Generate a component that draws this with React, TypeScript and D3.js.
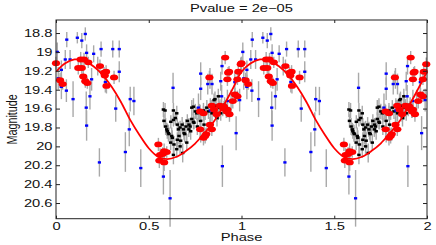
import React, { useEffect, useRef } from 'react';
import * as d3 from 'd3';

// one period of the folded light curve; every point is drawn at phase and phase + 1
const bluePhase = [0.007, 0.012, 0.029, 0.029, 0.05, 0.056, 0.058, 0.076, 0.092, 0.115, 0.139, 0.158, 0.165, 0.163, 0.165, 0.183, 0.192, 0.203, 0.225, 0.234, 0.243, 0.266, 0.306, 0.322, 0.341, 0.341, 0.374, 0.395, 0.4, 0.42, 0.457, 0.579, 0.615, 0.631, 0.768, 0.78, 0.78, 0.78, 0.818, 0.83, 0.832, 0.841, 0.877, 0.888, 0.893, 0.895, 0.897, 0.924, 0.944, 0.964, 0.971, 0.99];
const blueMag = [19.0, 19.28, 19.19, 19.37, 19.08, 19.41, 18.87, 19.08, 19.5, 18.85, 18.88, 18.81, 19.01, 19.59, 19.78, 19.47, 19.29, 19.02, 19.15, 20.17, 18.97, 19.32, 18.97, 19.6, 18.97, 19.21, 20.06, 19.82, 19.5, 19.52, 20.23, 20.32, 20.55, 19.38, 19.59, 19.23, 19.39, 19.81, 19.34, 19.28, 19.62, 19.34, 19.58, 19.31, 19.47, 19.15, 20.21, 19.52, 19.52, 19.32, 19.86, 19.51];
const blueErr = [0.1, 0.12, 0.1, 0.13, 0.1, 0.12, 0.08, 0.1, 0.19, 0.06, 0.08, 0.07, 0.09, 0.17, 0.16, 0.14, 0.12, 0.09, 0.1, 0.15, 0.08, 0.11, 0.09, 0.14, 0.09, 0.11, 0.21, 0.18, 0.13, 0.15, 0.2, 0.19, 0.3, 0.16, 0.15, 0.12, 0.12, 0.15, 0.11, 0.11, 0.13, 0.11, 0.13, 0.1, 0.12, 0.09, 0.22, 0.12, 0.12, 0.11, 0.18, 0.12];

const blackPhase = [0.579, 0.582, 0.588, 0.591, 0.597, 0.6, 0.606, 0.609, 0.618, 0.619, 0.624, 0.627, 0.633, 0.633, 0.633, 0.636, 0.643, 0.651, 0.651, 0.654, 0.654, 0.66, 0.663, 0.669, 0.669, 0.672, 0.68, 0.683, 0.687, 0.69, 0.694, 0.701, 0.705, 0.708, 0.716, 0.717, 0.723, 0.726, 0.732, 0.732, 0.741, 0.741, 0.744, 0.751, 0.759, 0.762, 0.773, 0.78, 0.795, 0.798, 0.804, 0.813, 0.822, 0.834, 0.841, 0.848, 0.852, 0.857, 0.858, 0.863, 0.868, 0.875, 0.875, 0.881, 0.888, 0.899, 0.909, 0.918];
const blackMag = [19.61, 19.73, 19.62, 19.79, 19.82, 19.84, 19.86, 19.87, 19.96, 19.74, 19.89, 19.91, 20.09, 19.72, 19.62, 19.98, 19.7, 19.65, 20.03, 19.93, 19.77, 19.82, 19.89, 20.0, 19.8, 19.94, 19.77, 20.07, 19.82, 19.86, 19.87, 19.79, 19.96, 19.73, 19.82, 19.77, 19.79, 19.84, 19.59, 19.71, 19.74, 19.58, 19.75, 19.63, 19.65, 19.79, 19.63, 19.73, 19.62, 19.77, 19.65, 19.59, 19.63, 19.58, 19.65, 19.6, 19.51, 19.5, 19.63, 19.57, 19.7, 19.65, 19.47, 19.59, 19.65, 19.61, 19.56, 19.63];
const blackErr = [0.08, 0.07, 0.08, 0.09, 0.07, 0.08, 0.09, 0.07, 0.08, 0.07, 0.09, 0.08, 0.1, 0.07, 0.08, 0.09, 0.07, 0.08, 0.09, 0.08, 0.07, 0.08, 0.09, 0.08, 0.07, 0.09, 0.08, 0.1, 0.08, 0.07, 0.09, 0.08, 0.09, 0.07, 0.08, 0.07, 0.08, 0.09, 0.08, 0.07, 0.08, 0.09, 0.07, 0.08, 0.07, 0.09, 0.08, 0.07, 0.08, 0.09, 0.07, 0.08, 0.08, 0.07, 0.09, 0.08, 0.07, 0.08, 0.07, 0.08, 0.09, 0.07, 0.08, 0.07, 0.08, 0.07, 0.08, 0.07];

const redPhase = [0.0, 0.022, 0.036, 0.12, 0.139, 0.133, 0.151, 0.174, 0.147, 0.158, 0.169, 0.237, 0.259, 0.27, 0.263, 0.313, 0.272, 0.552, 0.583, 0.597, 0.561, 0.557, 0.583, 0.575, 0.777, 0.795, 0.777, 0.795, 0.81, 0.83, 0.84, 0.804, 0.827, 0.84, 0.852, 0.866, 0.884, 0.902, 0.924, 0.906, 0.92, 0.935, 0.912, 0.933, 0.924, 0.928, 0.953, 0.965, 0.978, 0.983, 0.978, 0.996];
const redMag = [19.12, 19.3, 19.34, 19.17, 19.17, 19.08, 19.08, 19.11, 19.26, 19.31, 19.33, 19.15, 19.22, 19.21, 19.25, 19.27, 19.36, 19.98, 20.05, 20.06, 20.09, 20.15, 20.17, 20.08, 19.63, 19.65, 19.82, 19.91, 19.87, 19.77, 19.82, 19.89, 19.27, 19.57, 19.61, 19.66, 19.57, 19.6, 19.61, 19.58, 19.63, 19.66, 19.06, 19.21, 19.29, 19.22, 19.52, 19.45, 19.47, 19.21, 19.29, 19.13];
const redErr = [0.07, 0.08, 0.06, 0.07, 0.06, 0.08, 0.07, 0.06, 0.08, 0.07, 0.06, 0.07, 0.06, 0.07, 0.06, 0.07, 0.08, 0.07, 0.08, 0.06, 0.07, 0.08, 0.09, 0.07, 0.07, 0.08, 0.09, 0.08, 0.07, 0.08, 0.07, 0.08, 0.07, 0.06, 0.07, 0.08, 0.07, 0.06, 0.07, 0.06, 0.07, 0.08, 0.07, 0.06, 0.07, 0.06, 0.08, 0.07, 0.06, 0.07, 0.06, 0.07];

// fitted curve
const fitPhase = [0, 0.05, 0.1, 0.15, 0.2, 0.25, 0.3, 0.35, 0.4, 0.45, 0.5, 0.55, 0.6, 0.65, 0.7, 0.75, 0.8, 0.85, 0.9, 0.95, 1.0];
const fitMag = [19.21, 19.12, 19.08, 19.09, 19.15, 19.24, 19.37, 19.53, 19.72, 19.88, 20.02, 20.11, 20.135, 20.11, 20.05, 19.97, 19.86, 19.74, 19.58, 19.4, 19.21];

const xTicks = [0, 0.5, 1, 1.5, 2];
const yTicks = [18.8, 19, 19.2, 19.4, 19.6, 19.8, 20, 20.2, 20.4, 20.6];

const FONT = '"Liberation Sans", Arial, sans-serif';
const STRETCH = 'scale(1.4,1)';

const App = () => {
  const ref = useRef<SVGSVGElement>(null);

  useEffect(() => {
    const svg = d3.select(ref.current);
    svg.selectAll('*').remove();
    const W = 436;
    const H = 245;
    const left = 56;
    const right = 427;
    const top = 20;
    const bottom = 218.7;

    const x = d3.scaleLinear().domain([0, 2]).range([left, right]);
    const y = d3.scaleLinear().domain([18.662, 20.766]).range([top, bottom]);

    svg.append('rect').attr('width', W).attr('height', H).attr('fill', '#fff');

    const fold = (ph: number[], mag: number[], err: number[]) => {
      const out: { p: number; m: number; e: number }[] = [];
      ph.forEach((p, i) => {
        out.push({ p, m: mag[i], e: err[i] });
        out.push({ p: p + 1, m: mag[i], e: err[i] });
      });
      return out;
    };
    const blue = fold(bluePhase, blueMag, blueErr);
    const black = fold(blackPhase, blackMag, blackErr);
    const red = fold(redPhase, redMag, redErr);

    // error bars first
    const bars = svg.append('g').attr('stroke', '#a9a9a9').attr('stroke-width', 1.4);
    [...blue, ...black, ...red].forEach((d) => {
      bars.append('line')
        .attr('x1', x(d.p)).attr('x2', x(d.p))
        .attr('y1', y(d.m - d.e)).attr('y2', y(d.m + d.e));
    });

    svg.append('g').selectAll('rect')
      .data(black)
      .enter().append('rect')
      .attr('x', (d) => x(d.p) - 1.7)
      .attr('y', (d) => y(d.m) - 1.25)
      .attr('width', 3.4)
      .attr('height', 2.5)
      .attr('fill', '#000');

    svg.append('g').selectAll('rect')
      .data(blue)
      .enter().append('rect')
      .attr('x', (d) => x(d.p) - 1.6)
      .attr('y', (d) => y(d.m) - 1.2)
      .attr('width', 3.2)
      .attr('height', 2.4)
      .attr('fill', '#0000ff');

    svg.append('g').selectAll('ellipse')
      .data(red)
      .enter().append('ellipse')
      .attr('cx', (d) => x(d.p))
      .attr('cy', (d) => y(d.m))
      .attr('rx', 4.1)
      .attr('ry', 2.9)
      .attr('fill', '#ff0000');

    const fit = fitPhase.map((p, i) => ({ p, m: fitMag[i] }))
      .concat(fitPhase.slice(1).map((p, i) => ({ p: p + 1, m: fitMag[i + 1] })));
    const line = d3.line<{ p: number; m: number }>()
      .curve(d3.curveCatmullRom)
      .x((d) => x(d.p))
      .y((d) => y(d.m));
    svg.append('path')
      .datum(fit)
      .attr('fill', 'none')
      .attr('stroke', '#ff0000')
      .attr('stroke-width', 1.8)
      .attr('d', line);

    // axes: ticks point inwards, frame on all sides
    const fmt = (d: d3.NumberValue) => String(+(+d).toFixed(1));
    const styleAxis = (g: d3.Selection<SVGGElement, unknown, null, undefined>) => {
      g.select('.domain').remove();
      g.selectAll('line').attr('stroke', '#222');
      g.selectAll('text')
        .attr('fill', '#111')
        .attr('font-family', FONT)
        .attr('font-size', 10.5)
        .attr('transform', STRETCH);
    };
    svg.append('g')
      .attr('transform', `translate(${left},0)`)
      .call(d3.axisLeft(y).tickValues(yTicks).tickSize(-4).tickPadding(2.5).tickFormat(fmt))
      .call(styleAxis);
    svg.append('g')
      .attr('transform', `translate(${right},0)`)
      .call(d3.axisRight(y).tickValues(yTicks).tickSize(-4).tickFormat(() => ''))
      .call(styleAxis);
    svg.append('g')
      .attr('transform', `translate(0,${bottom})`)
      .call(d3.axisBottom(x).tickValues(xTicks).tickSize(-3).tickPadding(4).tickFormat(fmt))
      .call(styleAxis);
    svg.append('g')
      .attr('transform', `translate(0,${top})`)
      .call(d3.axisTop(x).tickValues(xTicks).tickSize(-3).tickFormat(() => ''))
      .call(styleAxis);

    svg.append('rect')
      .attr('x', left).attr('y', top)
      .attr('width', right - left).attr('height', bottom - top)
      .attr('fill', 'none')
      .attr('stroke', '#222')
      .attr('stroke-width', 1);

    svg.append('text')
      .attr('transform', `translate(${(left + right) / 2},12) ${STRETCH}`)
      .attr('text-anchor', 'middle')
      .attr('font-family', FONT)
      .attr('font-size', 10.5)
      .attr('fill', '#111')
      .text('Pvalue = 2e\u221205');

    svg.append('text')
      .attr('transform', `translate(${(left + right) / 2},241) ${STRETCH}`)
      .attr('text-anchor', 'middle')
      .attr('font-family', FONT)
      .attr('font-size', 10.5)
      .attr('fill', '#111')
      .text('Phase');

    // rotated label: the horizontal stretch only thickens its strokes
    svg.append('text')
      .attr('transform', `translate(16.5,${(top + bottom) / 2}) scale(1.3,1) rotate(-90)`)
      .attr('text-anchor', 'middle')
      .attr('font-family', FONT)
      .attr('font-size', 10.8)
      .attr('fill', '#111')
      .text('Magnitude');
  }, []);

  return (
    <svg
      ref={ref}
      width={436}
      height={245}
      style={{ position: 'absolute', left: 0, top: 0, display: 'block' }}
    />
  );
};

export default App;
